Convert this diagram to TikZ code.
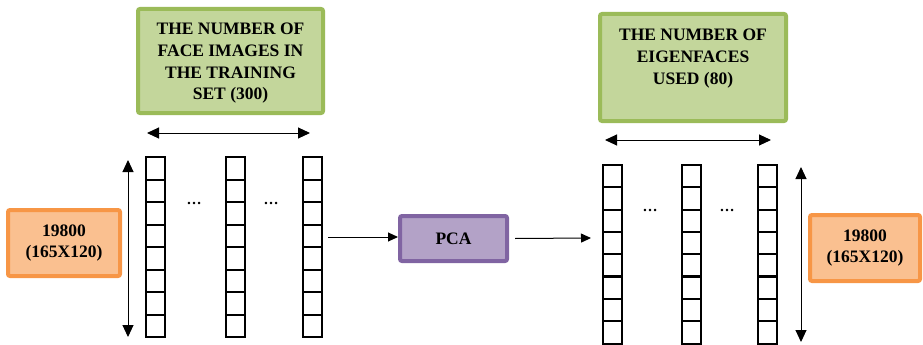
\documentclass[tikz,border=0pt]{standalone}
\usepackage{fontspec}
\setmainfont{Liberation Serif}
\usetikzlibrary{arrows.meta}

\definecolor{greenfill}{HTML}{C3D69B}
\definecolor{greenline}{HTML}{9BBB59}
\definecolor{orangefill}{HTML}{FAC090}
\definecolor{orangeline}{HTML}{F79646}
\definecolor{purplefill}{HTML}{B3A2C7}
\definecolor{purpleline}{HTML}{8064A2}

\tikzset{
  lbl/.style={font=\fontsize{17.5}{21.7}\selectfont\bfseries, align=center, inner sep=0pt},
  box/.style={line width=4pt, rounded corners=2pt, inner sep=0pt},
  greenbox/.style={box, draw=greenline, fill=greenfill},
  orangebox/.style={box, draw=orangeline, fill=orangefill, lbl},
  purplebox/.style={box, draw=purpleline, fill=purplefill, lbl},
  cell/.style={draw=black, line width=2pt, minimum width=19pt, minimum height=22.5pt, inner sep=0pt},
  tip/.style={},
  arr/.style={draw=black, line width=1pt, -{Triangle[length=10pt,width=9pt]}},
  dblarr/.style={draw=black, line width=1pt, {Triangle[length=12pt,width=11pt]}-{Triangle[length=12pt,width=11pt]}},
  dots/.style={font=\fontsize{15}{18}\selectfont\bfseries, inner sep=0pt}
}

\begin{document}
\begin{tikzpicture}[x=1pt, y=-1pt]
\useasboundingbox (0,0) rectangle (923,345);

% header boxes
\node[greenbox, minimum width=185pt, minimum height=104pt] (trainbox) at (230.5,61) {};
\node[lbl, anchor=north] (traintext) at (230.5,23) {THE NUMBER OF\\FACE IMAGES IN\\THE TRAINING\\SET (300)};
\node[greenbox, minimum width=186pt, minimum height=107pt] (eigbox) at (693,67.5) {};
\node[lbl, anchor=north] (eigtext) at (693,29) {THE NUMBER OF\\EIGENFACES\\USED (80)};

% size boxes
\node[orangebox, minimum width=112pt, minimum height=66pt] (sizeL) at (64,243) {19800\\(165X120)};
\node[orangebox, minimum width=110pt, minimum height=66pt] (sizeR) at (865,248) {19800\\(165X120)};

% PCA block
\node[purplebox, minimum width=107pt, minimum height=45pt] (pca) at (453.5,238.5) {PCA};

% column vectors, input side
\foreach \c/\x in {1/155.5, 2/235.5, 3/312} {
  \foreach \k in {1,...,8} {
    \node[cell] (L\c-\k) at (\x, {157+22.5*(\k-0.5)}) {};
  }
}
% column vectors, output side
\foreach \c/\x in {1/612, 2/691.5, 3/767.5} {
  \foreach \k in {1,...,8} {
    \node[cell] (R\c-\k) at (\x, {165+22.3*(\k-0.5)}) {};
  }
}

% ellipses between columns
\node[dots] (dL1) at (194,203) {\ldots};
\node[dots] (dL2) at (271,203) {\ldots};
\node[dots] (dR1) at (650,210) {\ldots};
\node[dots] (dR2) at (727,210) {\ldots};

% dimension arrows
\coordinate (hL1) at (147,133);
\coordinate (hL2) at (310,133);
\coordinate (hR1) at (605,140);
\coordinate (hR2) at (771,140);
\coordinate (vL1) at (128,160);
\coordinate (vL2) at (128,337);
\coordinate (vR1) at (801,167);
\coordinate (vR2) at (801,342);
\draw[dblarr] (hL1) -- (hL2);
\draw[dblarr] (hR1) -- (hR2);
\draw[dblarr] (vL1) -- (vL2);
\draw[dblarr] (vR1) -- (vR2);

% flow arrows
\coordinate (inA) at (328,237);
\coordinate (outA) at (591,238);
\draw[arr] (inA) -- (inA -| pca.west);
\draw[arr] ([xshift=6pt]pca.east) -- (outA);
\end{tikzpicture}
\end{document}
